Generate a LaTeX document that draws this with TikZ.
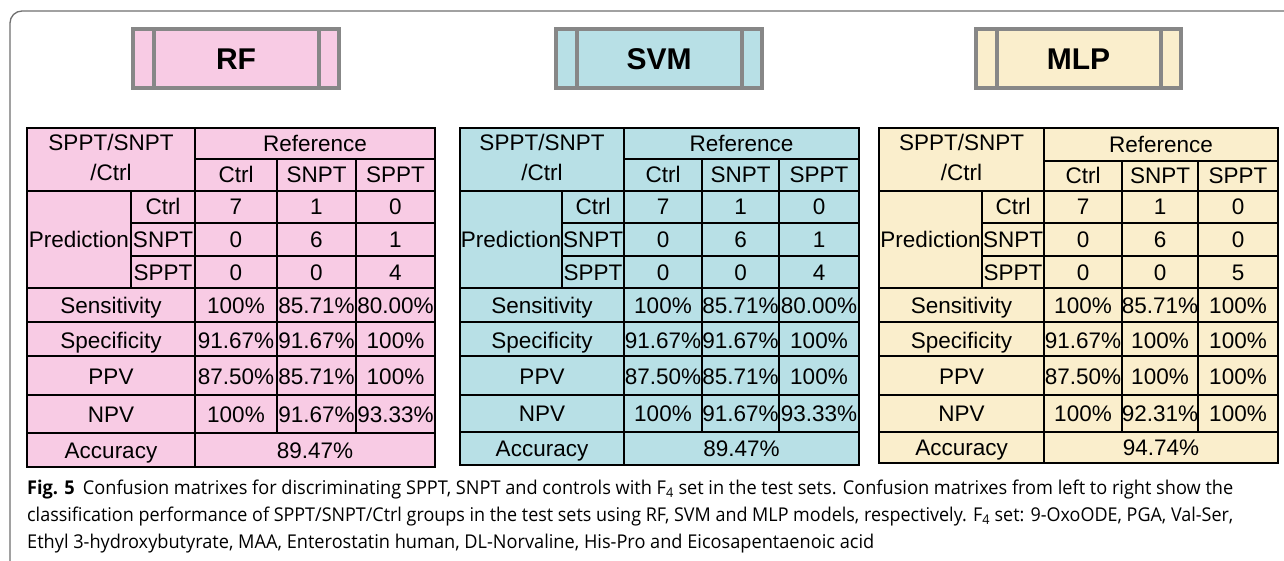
\documentclass[tikz,border=0pt]{standalone}
\usepackage{fontspec}
\usepackage{graphicx}
\setmainfont{Liberation Sans}
\newfontfamily\capfont{Open Sans}
\definecolor{rfpink}{HTML}{F8CBE4}
\definecolor{svmblue}{HTML}{B8E0E6}
\definecolor{mlpcream}{HTML}{FAEECC}
\definecolor{hdrgray}{HTML}{878787}
\definecolor{framegray}{HTML}{707070}
\tikzset{
  gridline/.style={line width=1.8pt, black},
  outerline/.style={line width=2.2pt, black},
  celltext/.style={font=\fontsize{22.5}{26}\selectfont, inner sep=0pt, anchor=base},
  hdrline/.style={line width=4pt, draw=hdrgray},
  hdrtext/.style={font=\fontsize{30}{34}\selectfont\bfseries, inner sep=0pt, anchor=base},
  captext/.style={font=\capfont\fontsize{19}{22}\selectfont, anchor=base west, inner sep=0pt},
  framestyle/.style={draw=framegray, line width=1.3pt, rounded corners=12pt}
}
% column / row positions of one table
\newcommand\setcols[9]{\def\xL{#1}\def\xS{#2}\def\xA{#3}\def\xB{#4}\def\xC{#5}\def\xR{#6}\def\yRef{#7}\def\yNpv{#8}\def\yBot{#9}}
% grid of one table
\newcommand\cmgrid[1]{%
  \fill[#1] (\xL,128) rectangle (\xR,\yBot);
  \draw[gridline] (\xA,128) -- (\xA,\yBot);
  \draw[gridline] (\xA,\yRef) -- (\xR,\yRef);
  \draw[gridline] (\xB,\yRef) -- (\xB,\yNpv);
  \draw[gridline] (\xC,\yRef) -- (\xC,\yNpv);
  \draw[gridline] (\xL,191) -- (\xR,191);
  \draw[gridline] (\xS,191) -- (\xS,288);
  \draw[gridline] (\xS,223) -- (\xR,223);
  \draw[gridline] (\xS,256) -- (\xR,256);
  \foreach \yy in {288,322,356,395,\yNpv} \draw[gridline] (\xL,\yy) -- (\xR,\yy);
  \draw[outerline] (\xL,128) rectangle (\xR,\yBot);
}
% texts of one table
\newcommand\cmtext[4]{%
  \pgfmathsetmacro\cLab{(\xL+\xA)/2}
  \pgfmathsetmacro\cPred{(\xL+\xS)/2}
  \pgfmathsetmacro\cSub{(\xS+\xA)/2}
  \pgfmathsetmacro\cOne{(\xA+\xB)/2}
  \pgfmathsetmacro\cTwo{(\xB+\xC)/2}
  \pgfmathsetmacro\cThr{(\xC+\xR)/2}
  \pgfmathsetmacro\cAll{(\xA+\xR)/2}
  \pgfmathsetmacro\yRefMid{(128+\yRef)/2}
  \pgfmathsetmacro\yColMid{(\yRef+191)/2}
  \pgfmathsetmacro\yAcc{(\yNpv+\yBot)/2}
  \node[celltext] (#1-corner1) at (\cLab,151) {SPPT/SNPT};
  \node[celltext] (#1-corner2) at (\cLab,181) {/Ctrl};
  \node[celltext] (#1-ref) at (\cAll,\yRefMid+8) {Reference};
  \node[celltext] (#1-hc1) at (\cOne,\yColMid+8) {Ctrl};
  \node[celltext] (#1-hc2) at (\cTwo,\yColMid+8) {SNPT};
  \node[celltext] (#1-hc3) at (\cThr,\yColMid+8) {SPPT};
  \node[celltext] (#1-pred) at (\cPred,247.5) {Prediction};
  \foreach \lab/\va/\vb/\vc [count=\i] in {#2} {
    \pgfmathsetmacro\yy{207+(\i-1)*32.5}
    \node[celltext] (#1-r\i-0) at (\cSub,\yy+8) {\lab};
    \node[celltext] (#1-r\i-1) at (\cOne,\yy+8) {\va};
    \node[celltext] (#1-r\i-2) at (\cTwo,\yy+8) {\vb};
    \node[celltext] (#1-r\i-3) at (\cThr,\yy+8) {\vc};
  }
  \foreach \lab/\va/\vb/\vc [count=\i] in {#3} {
    \pgfmathsetmacro\yy{{305,340,376,(395+\yNpv)/2}[\i-1]}
    \node[celltext] (#1-m\i-0) at (\cLab,\yy+8) {\lab};
    \node[celltext] (#1-m\i-1) at (\cOne,\yy+8) {\va};
    \node[celltext] (#1-m\i-2) at (\cTwo,\yy+8) {\vb};
    \node[celltext] (#1-m\i-3) at (\cThr,\yy+8) {\vc};
  }
  \node[celltext] (#1-accl) at (\cLab,\yAcc+8) {Accuracy};
  \node[celltext] (#1-accv) at (\cAll,\yAcc+8) {#4};
}
% header box
\newcommand\hdrbox[5]{%
  \fill[#4] (#2,27) rectangle (#3,90);
  \draw[hdrline] (#2+2,29) rectangle (#3-2,88);
  \draw[hdrline] (#2+23,29) -- (#2+23,88);
  \draw[hdrline] (#3-22,29) -- (#3-22,88);
  \node[hdrtext] (#1) at ({(#2+#3)/2},70) {#5};
}
\begin{document}
\begin{tikzpicture}[x=1pt,y=-1pt]
\useasboundingbox (0,0) rectangle (1284,561);
\clip (0,0) rectangle (1284,561);
\fill[white] (0,0) rectangle (1284,561);
\draw[framestyle] (10,11) rectangle (1310,590);

\hdrbox{hrf}{131}{341}{rfpink}{RF}
\hdrbox{hsvm}{554}{764}{svmblue}{SVM}
\hdrbox{hmlp}{974}{1183}{mlpcream}{MLP}

% RF
\setcols{27}{131}{195}{277}{356}{435}{159}{433}{467}
\cmgrid{rfpink}
\cmtext{rf}{Ctrl/7/1/0, SNPT/0/6/1, SPPT/0/0/4}{Sensitivity/100\%/85.71\%/80.00\%, Specificity/91.67\%/91.67\%/100\%, PPV/87.50\%/85.71\%/100\%, NPV/100\%/91.67\%/93.33\%}{89.47\%}
% SVM
\setcols{460}{562}{624}{702}{779}{859}{159}{432}{465}
\cmgrid{svmblue}
\cmtext{svm}{Ctrl/7/1/0, SNPT/0/6/1, SPPT/0/0/4}{Sensitivity/100\%/85.71\%/80.00\%, Specificity/91.67\%/91.67\%/100\%, PPV/87.50\%/85.71\%/100\%, NPV/100\%/91.67\%/93.33\%}{89.47\%}
% MLP
\setcols{879}{982}{1044}{1122}{1198}{1278}{161}{432}{463}
\cmgrid{mlpcream}
\cmtext{mlp}{Ctrl/7/1/0, SNPT/0/6/0, SPPT/0/0/5}{Sensitivity/100\%/85.71\%/100\%, Specificity/91.67\%/100\%/100\%, PPV/87.50\%/100\%/100\%, NPV/100\%/92.31\%/100\%}{94.74\%}

% caption
\node[captext] (cap1) at (27,494) {\resizebox{1206pt}{\height}{\textbf{Fig. 5}\hspace{0.45em}Confusion matrixes for discriminating SPPT, SNPT and controls with F\textsubscript{4} set in the test sets. Confusion matrixes from left to right show the}};
\node[captext] (cap2) at (27,521) {\resizebox{1206pt}{\height}{classification performance of SPPT/SNPT/Ctrl groups in the test sets using RF, SVM and MLP models, respectively. F\textsubscript{4} set: 9-OxoODE, PGA, Val-Ser,}};
\node[captext] (cap3) at (27,548) {\resizebox{847pt}{\height}{Ethyl 3-hydroxybutyrate, MAA, Enterostatin human, DL-Norvaline, His-Pro and Eicosapentaenoic acid}};
\end{tikzpicture}
\end{document}
